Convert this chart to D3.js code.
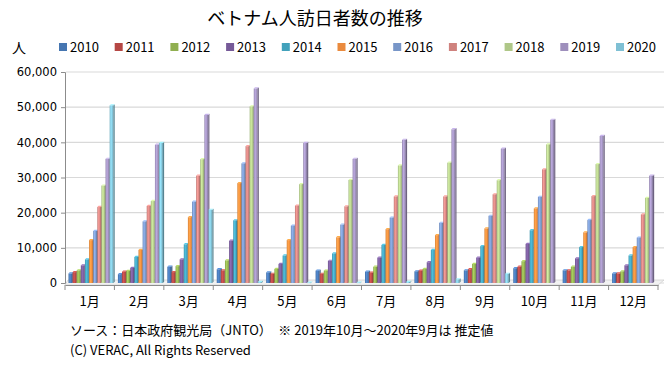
<!DOCTYPE html>
<html><head><meta charset="utf-8">
<script src="https://cdn.jsdelivr.net/npm/d3@7/dist/d3.min.js"></script>
<style>
html,body{margin:0;padding:0;background:#fff;}
svg{display:block;}
</style></head>
<body>
<svg id="chart" width="672" height="370"></svg>
<script>
const months = ["1月","2月","3月","4月","5月","6月","7月","8月","9月","10月","11月","12月"];
const years = ["2010","2011","2012","2013","2014","2015","2016","2017","2018","2019","2020"];
const v2010 = [2700,2500,4600,3900,3000,3500,3200,3300,3600,4200,3600,2700];
const v2011 = [3100,3200,3100,3600,2600,2600,2900,3500,3900,4600,3600,2700];
const v2012 = [3600,3400,4800,6400,4000,3500,4600,4000,5400,6200,4600,3300];
const v2013 = [5000,4300,6700,12000,5400,6300,7200,5900,7200,11100,7000,5000];
const v2014 = [6700,7400,11000,17800,7800,8400,10800,9400,10500,15000,10200,7800];
const v2015 = [12200,9400,18700,28400,12200,13000,15300,13600,15500,21200,14400,10200];
const v2016 = [14800,17500,23100,34000,16300,16600,18600,17100,19100,24500,17900,12900];
const v2017 = [21600,21900,30500,38900,22000,21800,24600,24600,25200,32300,24700,19500];
const v2018 = [27700,23300,35200,50200,28100,29300,33400,34200,29200,39400,33800,24200];
const v2019 = [35300,39300,47800,55300,39800,35300,40700,43700,38200,46400,41800,30500];
const v2020 = [50500,39800,20800,300,100,100,300,1000,2600,null,null,null];
const seriesValues = [v2010,v2011,v2012,v2013,v2014,v2015,v2016,v2017,v2018,v2019,v2020];
const colors = ["#4A7CBB","#BF4B48","#98B954","#7D5FA0","#46AAC5","#F79240","#7F9ED3","#DA8985","#B9D28F","#A797C6","#86CBE0"];
const yTicks = [0,10000,20000,30000,40000,50000,60000];
const titleText = "ベトナム人訪日者数の推移";
const unitText = "人";
const noteText = "ソース：日本政府観光局（JNTO）　※ 2019年10月～2020年9月は 推定値";
const copyText = "(C) VERAC, All Rights Reserved";

const svg = d3.select("#chart");
const jp = "'Noto Sans CJK JP','Noto Sans',sans-serif";
const num = "'DejaVu Sans',Verdana,sans-serif";

const x = d3.scaleBand().domain(months).range([65, 658]).paddingInner(0).paddingOuter(0);
const xi = d3.scaleBand().domain(years).range([3.5, 48.5]).paddingInner(0.06);
const y = d3.scaleLinear().domain([0, 60000]).range([283, 72]);

// gradients
const defs = svg.append("defs");
years.forEach((yr, i) => {
  const c = d3.color(colors[i]);
  const g = defs.append("linearGradient").attr("id", "g" + yr).attr("x1", "0").attr("x2", "1").attr("y1", "0").attr("y2", "0");
  g.append("stop").attr("offset", "0%").attr("stop-color", c.darker(0.4));
  g.append("stop").attr("offset", "35%").attr("stop-color", c.brighter(0.35));
  g.append("stop").attr("offset", "70%").attr("stop-color", c);
  g.append("stop").attr("offset", "100%").attr("stop-color", c.darker(0.9));
});

// back wall gridlines
svg.append("g").selectAll("line").data(yTicks).join("line")
  .attr("x1", 66).attr("x2", 664)
  .attr("y1", d => y(d)).attr("y2", d => y(d))
  .attr("stroke", "#d9d9d9").attr("stroke-width", 1.2);

// floor
svg.append("path")
  .attr("d", `M65,${y(0)+2} L658,${y(0)+2} L664,${y(0)-3} L68,${y(0)-3} Z`)
  .attr("fill", "#f2f2f2").attr("stroke", "#d0d0d0").attr("stroke-width", 0.8);

// bars
const groups = svg.append("g").selectAll("g").data(years).join("g");
groups.each(function(yr, si) {
  const c = d3.color(colors[si]);
  const vals = seriesValues[si].map((v, mi) => ({m: months[mi], v}));
  const g = d3.select(this);
  const valid = vals.filter(d => d.v != null);
  const w = xi.bandwidth();
  // side face
  g.selectAll("path.side").data(valid).join("path").attr("class", "side")
    .attr("d", d => {
      const bx = x(d.m) + xi(yr) + w, t = y(d.v), b = y(0);
      return `M${bx},${t} L${bx+1.2},${t-1.2} L${bx+1.2},${b-1.2} L${bx},${b} Z`;
    })
    .attr("fill", c.darker(1.2));
  // top face
  g.selectAll("path.top").data(valid).join("path").attr("class", "top")
    .attr("d", d => {
      const bx = x(d.m) + xi(yr), t = y(d.v);
      return `M${bx},${t} L${bx+1.2},${t-1.2} L${bx+w+1.2},${t-1.2} L${bx+w},${t} Z`;
    })
    .attr("fill", c.brighter(0.5));
  g.selectAll("rect").data(valid).join("rect")
    .attr("x", d => x(d.m) + xi(yr))
    .attr("width", w)
    .attr("y", d => y(d.v))
    .attr("height", d => Math.max(0.5, y(0) - y(d.v)))
    .attr("fill", `url(#g${yr})`);
});

// y axis
const yAxis = d3.axisLeft(y).tickValues(yTicks).tickSize(4).tickPadding(4).tickFormat(d3.format(","));
const ya = svg.append("g").attr("transform", "translate(65,0)").call(yAxis);
ya.select(".domain").attr("stroke", "#8c8c8c");
ya.selectAll(".tick line").attr("stroke", "#8c8c8c");
ya.selectAll(".tick text").attr("font-family", num).attr("font-size", 11.5).attr("fill", "#000");

// x axis
const xAxis = d3.axisBottom(x).tickSize(0).tickPadding(12);
const xa = svg.append("g").attr("transform", `translate(0,${y(0)+2})`).call(xAxis);
xa.select(".domain").attr("stroke", "#8c8c8c");
xa.selectAll(".tick text").attr("font-family", jp).attr("font-size", 13).attr("fill", "#000");
svg.append("g").selectAll("line").data(d3.range(13)).join("line")
  .attr("x1", i => 65 + i * x.step()).attr("x2", i => 65 + i * x.step())
  .attr("y1", y(0) + 2).attr("y2", y(0) + 7)
  .attr("stroke", "#8c8c8c");

// title
svg.append("text").attr("x", 315).attr("y", 25).attr("text-anchor", "middle")
  .attr("font-family", jp).attr("font-size", 18).attr("fill", "#000").text(titleText);

// unit
svg.append("text").attr("x", 19).attr("y", 53).attr("text-anchor", "middle")
  .attr("font-family", jp).attr("font-size", 14).attr("fill", "#000").text(unitText);

// legend
const lg = svg.append("g").selectAll("g").data(years).join("g")
  .attr("transform", (d, i) => `translate(${59 + i * 55.7},47)`);
lg.append("rect").attr("x", 0).attr("y", -4).attr("width", 8).attr("height", 8)
  .attr("fill", (d, i) => d3.color(colors[i]).darker(0.15));
lg.append("text").attr("x", 11).attr("y", 5).attr("font-family", jp).attr("font-size", 13)
  .attr("fill", "#000").text(d => d);

// footnotes
const n1 = svg.append("text").attr("x", 70).attr("y", 335).attr("font-family", jp).attr("font-size", 13)
  .attr("fill", "#000").text(noteText);
if (n1.node().getComputedTextLength() > 435) n1.attr("textLength", 435).attr("lengthAdjust", "spacingAndGlyphs");
const n2 = svg.append("text").attr("x", 70).attr("y", 355).attr("font-family", jp).attr("font-size", 13)
  .attr("fill", "#000").text(copyText);
if (n2.node().getComputedTextLength() > 185) n2.attr("textLength", 185).attr("lengthAdjust", "spacingAndGlyphs");
</script>
</body></html>
